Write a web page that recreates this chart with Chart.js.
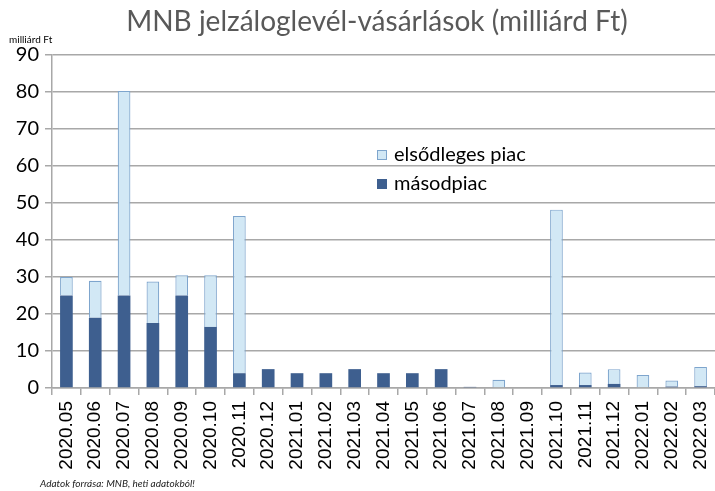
<!DOCTYPE html>
<html>
<head>
<meta charset="utf-8">
<script src="https://cdn.jsdelivr.net/npm/chart.js@4"></script>
<style>
  html, body { margin: 0; padding: 0; background: #fff; }
  #wrap { width: 715px; height: 491px; position: relative; }
</style>
</head>
<body>
<div id="wrap"><canvas id="c"></canvas></div>
<script>
// adatok (milliárd Ft)
const months = ["2020.05","2020.06","2020.07","2020.08","2020.09","2020.10","2020.11","2020.12",
  "2021.01","2021.02","2021.03","2021.04","2021.05","2021.06","2021.07","2021.08","2021.09",
  "2021.10","2021.11","2021.12","2022.01","2022.02","2022.03"];
const secondary = [25, 19, 25, 17.6, 25, 16.5, 4, 5.1, 4, 4, 5.1, 4, 4, 5.1, 0.3, 0, 0, 0.8, 0.8, 1.1, 0.2, 0.4, 0.5];
const primary   = [5, 10, 55.3, 11.2, 5.5, 14, 42.5, 0, 0, 0, 0, 0, 0, 0, 0, 2.2, 0, 47.4, 3.4, 4, 3.3, 1.6, 5.2];
const yTicks = [0, 10, 20, 30, 40, 50, 60, 70, 80, 90];

const DARK = "#3e5f8f";
const LIGHT = "#d2e8f5";
const LIGHT_EDGE = "#7ea5cd";
const GRID = "#a8a8a8";

// cím, mértékegység, jelmagyarázat, forrás
const decor = {
  id: "decor",
  afterDraw(chart) {
    const { ctx } = chart;
    ctx.save();
    ctx.fillStyle = "#595959";
    ctx.font = "28px Lato, 'Open Sans', sans-serif";
    ctx.textAlign = "center";
    ctx.textBaseline = "middle";
    ctx.fillText("MNB jelzáloglevél-vásárlások (milliárd Ft)", 377, 22);

    ctx.fillStyle = "#000";
    ctx.font = "10px Lato, sans-serif";
    ctx.textAlign = "left";
    ctx.fillText("milliárd Ft", 9, 40);

    ctx.font = "italic 10px Lato, sans-serif";
    ctx.fillStyle = "#222";
    ctx.fillText("Adatok forrása: MNB, heti adatokból!", 40, 484);

    // jelmagyarázat
    const items = [
      { label: "elsődleges piac", fill: LIGHT, edge: LIGHT_EDGE, y: 155 },
      { label: "másodpiac", fill: DARK, edge: DARK, y: 184 },
    ];
    ctx.font = "20px Lato, sans-serif";
    for (const it of items) {
      ctx.fillStyle = it.fill;
      ctx.fillRect(377, it.y - 5, 10, 10);
      ctx.strokeStyle = it.edge;
      ctx.lineWidth = 1;
      ctx.strokeRect(377.5, it.y - 4.5, 9, 9);
      ctx.fillStyle = "#000";
      ctx.fillText(it.label, 394, it.y);
    }
    ctx.restore();
  }
};

new Chart(document.getElementById("c"), {
  type: "bar",
  data: {
    labels: months,
    datasets: [
      { label: "másodpiac", data: secondary, backgroundColor: DARK, borderWidth: 0 },
      { label: "elsődleges piac", data: primary, backgroundColor: LIGHT, borderColor: LIGHT_EDGE, borderWidth: 1.2 },
    ]
  },
  options: {
    responsive: true, maintainAspectRatio: false, animation: false,
    layout: { padding: { top: 55, right: -4, left: 0, bottom: 0 } },
    datasets: { bar: { barPercentage: 0.44, categoryPercentage: 1 } },
    plugins: { legend: { display: false }, title: { display: false }, tooltip: { enabled: false } },
    scales: {
      x: {
        stacked: true, offset: true,
        grid: { offset: true, drawOnChartArea: false, drawTicks: true, tickLength: 7, color: GRID, lineWidth: 1.5 },
        border: { color: GRID, width: 1.5 },
        ticks: { minRotation: 90, maxRotation: 90, autoSkip: false, color: "#000", padding: 6,
          font: { family: "'Liberation Sans', Arial, sans-serif", size: 19 } },
        afterFit: s => { s.height = 103; s.paddingLeft = 0; s.paddingRight = 0; }
      },
      y: {
        stacked: true, min: 0, max: 90,
        afterBuildTicks: s => { s.ticks = yTicks.map(v => ({ value: v })); },
        grid: { color: GRID, lineWidth: 1.5, tickLength: 7 },
        border: { color: GRID, width: 1.5 },
        ticks: { color: "#000", padding: 6, font: { family: "Lato, sans-serif", size: 20 } },
        afterFit: s => { s.width = 52; s.paddingTop = 0; s.paddingBottom = 0; }
      }
    }
  },
  plugins: [decor]
});
</script>
</body>
</html>
